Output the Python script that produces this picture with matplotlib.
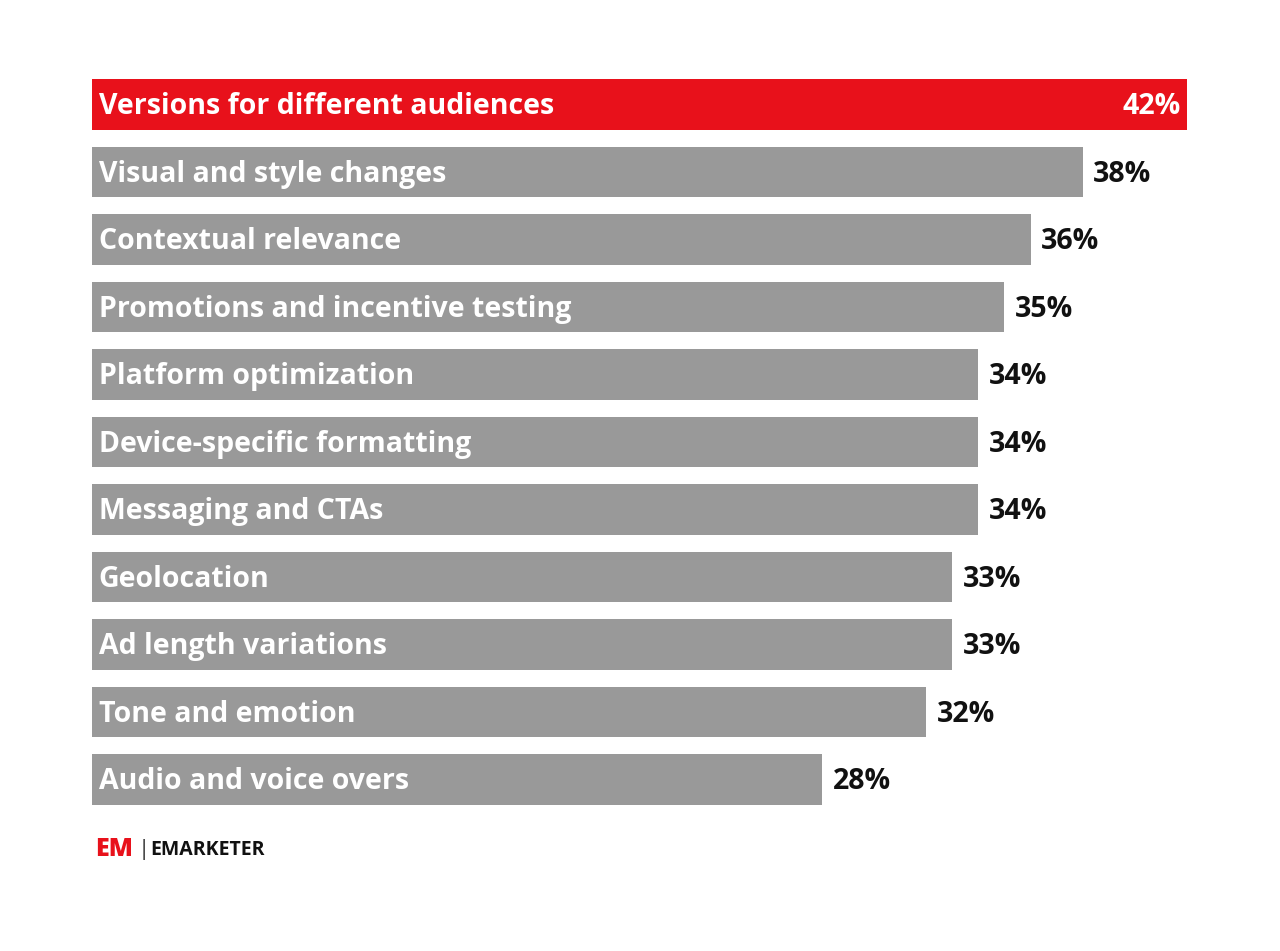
import matplotlib
matplotlib.use('Agg')
import matplotlib.pyplot as plt

categories = ['Versions for different audiences', 'Visual and style changes', 'Contextual relevance',
              'Promotions and incentive testing', 'Platform optimization', 'Device-specific formatting',
              'Messaging and CTAs', 'Geolocation', 'Ad length variations', 'Tone and emotion',
              'Audio and voice overs']
values = [42, 38, 36, 35, 34, 34, 34, 33, 33, 32, 28]

W, H = 1280, 951
fig = plt.figure(figsize=(W / 100, H / 100), dpi=100)
fig.patch.set_facecolor('white')
ax = fig.add_axes([92 / W, 1 - 805 / H, (1187 - 92) / W, (805 - 79) / H])
hb = 0.755
ax.set_xlim(0, 42)
ax.set_ylim(len(values) - 1 + hb / 2, -hb / 2)
ax.axis('off')

font = 'Open Sans'
fs = 20.5
for i, (c, v) in enumerate(zip(categories, values)):
    col = '#e8111b' if i == 0 else '#999999'
    ax.barh(i, v, height=hb, color=col)
    ax.text(0.25, i + 0.03, c, color='white', fontsize=fs, fontweight='bold', va='center', ha='left', family=font)
    if i == 0:
        ax.text(v - 0.25, i + 0.03, f'{v}%', color='white', fontsize=fs, fontweight='bold', va='center', ha='right', family=font)
    else:
        ax.text(v + 0.4, i + 0.03, f'{v}%', color='#111111', fontsize=fs, fontweight='bold', va='center', ha='left', family=font)

# logo
fig.text(95 / W, 1 - 850 / H, 'EM', color='#e8111b', fontsize=18, fontweight='heavy', va='center', family=font)
fig.text(138 / W, 1 - 849 / H, '|', color='#333333', fontsize=16, va='center', family=font)
fig.text(150 / W, 1 - 850 / H, 'EMARKETER', color='#111111', fontsize=14, fontweight='bold',
         va='center', family=font)

fig.savefig('out.png', dpi=100)
